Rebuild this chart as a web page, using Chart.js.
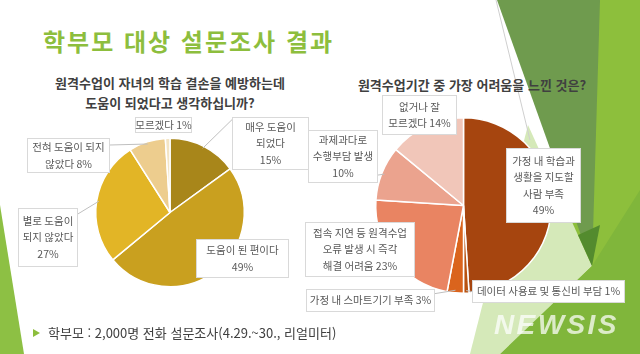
<!DOCTYPE html>
<html lang="ko">
<head>
<meta charset="utf-8">
<script src="https://cdn.jsdelivr.net/npm/chart.js@4.4.1/dist/chart.umd.min.js"></script>
<style>
  html, body { margin: 0; padding: 0; background: #fff; }
  body { width: 640px; height: 354px; position: relative; overflow: hidden; font-family: "Noto Sans CJK KR", sans-serif; }
  #bg, canvas { position: absolute; left: 0; top: 0; }
  .title { position: absolute; left: 43px; top: 28px; font-size: 24px; line-height: 26px; font-weight: bold; letter-spacing: 2px; color: #8DBE3D; white-space: nowrap; }
  .q { position: absolute; color: #404040; font-weight: bold; font-size: 13px; line-height: 20px; text-align: center; white-space: nowrap; }
  .foot { position: absolute; left: 48px; top: 324px; font-size: 13px; line-height: 18px; color: #404040; white-space: nowrap; }
  .arrow { position: absolute; left: 33px; top: 329px; width: 0; height: 0; border-left: 7px solid #8DBE3D; border-top: 4px solid transparent; border-bottom: 4px solid transparent; }
  .mark { position: absolute; left: 494px; top: 309px; font-family: "Liberation Sans", sans-serif; font-size: 28px; font-weight: bold; font-style: italic; letter-spacing: 2.4px; color: rgba(255,255,255,0.72); }
</style>
</head>
<body>
<svg id="bg" width="640" height="354">
  <polygon points="0,205 24,354 0,354" fill="#8DC044"/>
  <polygon points="583,0 640,0 640,354 560,354" fill="#8DBF3C"/>
  <polygon points="497,0 600,0 592,266" fill="#6F9B4E"/>
  <polygon points="528,125 592,266 500,354 470,354" fill="#D5E9B9"/>
  <polygon points="592,266 640,190 640,354 500,354" fill="#80B63B"/>
  <polygon points="578,235 600,225 592,266" fill="#538B2E"/>
  <line x1="496" y1="0" x2="530" y2="140" stroke="#cfcfcf" stroke-width="1"/>
</svg>

<div class="title">학부모 대상 설문조사 결과</div>
<div class="q" style="left:20px; width:300px; top:73px;">원격수업이 자녀의 학습 결손을 예방하는데<br>도움이 되었다고 생각하십니까?</div>
<div class="q" style="left:322px; width:300px; top:75px;">원격수업기간 중 가장 어려움을 느낀 것은?</div>

<canvas id="pie1" width="640" height="354"></canvas>
<canvas id="pie2" width="640" height="354"></canvas>

<div class="arrow"></div>
<div class="foot">학부모 : 2,000명 전화 설문조사(4.29.~30., 리얼미터)</div>
<div class="mark">NEWSIS</div>

<script>
// 원격수업이 학습 결손 예방에 도움이 되었나
const helpLabels = [['매우 도움이', '되었다'], ['도움이 된 편이다'], ['별로 도움이', '되지 않았다'], ['전혀 도움이 되지', '않았다'], ['모르겠다']];
const helpValues = [15, 49, 27, 8, 1];
const helpColors = ['#A8861A', '#C9A01F', '#E2B526', '#EDCD8E', '#F3E4C4'];

// 원격수업기간 중 가장 어려웠던 점
const hardLabels = [['가정 내 학습과', '생활을 지도할', '사람 부족'], ['데이터 사용료 및 통신비 부담'], ['가정 내 스마트기기 부족'], ['접속 지연 등 원격수업', '오류 발생 시 즉각', '해결 어려움'], ['과제과다로', '수행부담 발생'], ['없거나 잘', '모르겠다']];
const hardValues = [49, 1, 3, 23, 10, 14];
const hardColors = ['#A6450F', '#B9520F', '#DA641D', '#E98462', '#EBA38E', '#F1C6B9'];

// label boxes (x, y, w, h), where the leader line leaves the box, and if % goes on its own line
const helpBoxes = [
  { x: 232, y: 117, w: 77, h: 53, at: [0, 0.05], pctLine: true },
  { x: 196, y: 239, w: 93, h: 39, pctLine: true },
  { x: 18, y: 208, w: 60, h: 59, at: [1, 0.1], pctLine: true },
  { x: 27, y: 138, w: 83, h: 35, at: [1, 0.2] },
  { x: 135, y: 117, w: 57, h: 16 }
];
const hardBoxes = [
  { x: 506, y: 148, w: 75, h: 75, pctLine: true },
  { x: 472, y: 280, w: 153, h: 23, at: [0, 0.5] },
  { x: 306, y: 289, w: 129, h: 23, at: [1, 0.2] },
  { x: 305, y: 222, w: 110, h: 55 },
  { x: 308, y: 130, w: 70, h: 53, at: [1, 0.85], pctLine: true },
  { x: 382, y: 95, w: 75, h: 40 }
];

const callouts = {
  id: 'callouts',
  afterDatasetsDraw(chart, args, opts) {
    const ctx = chart.ctx;
    const meta = chart.getDatasetMeta(0);
    const values = chart.data.datasets[0].data;
    const labels = chart.data.labels;
    ctx.save();
    opts.boxes.forEach((b, i) => {
      const arc = meta.data[i];
      if (b.at) {
        const p = arc.getProps(['x', 'y', 'startAngle', 'endAngle', 'outerRadius'], true);
        const mid = (p.startAngle + p.endAngle) / 2;
        const ax = p.x + Math.cos(mid) * p.outerRadius * 0.97;
        const ay = p.y + Math.sin(mid) * p.outerRadius * 0.97;
        ctx.strokeStyle = '#BFBFBF';
        ctx.lineWidth = 1;
        ctx.beginPath();
        ctx.moveTo(b.x + b.w * b.at[0], b.y + b.h * b.at[1]);
        ctx.lineTo(ax, ay);
        ctx.stroke();
      }
      ctx.fillStyle = '#fff';
      ctx.fillRect(b.x, b.y, b.w, b.h);
      ctx.strokeStyle = '#D9D9D9';
      ctx.strokeRect(b.x + 0.5, b.y + 0.5, b.w - 1, b.h - 1);

      const lines = labels[i].slice();
      const pct = values[i] + '%';
      if (b.pctLine) lines.push(pct);
      else lines[lines.length - 1] += ' ' + pct;
      ctx.font = '10.5px "Noto Sans CJK KR"';
      ctx.fillStyle = '#595959';
      ctx.textAlign = 'center';
      ctx.textBaseline = 'middle';
      const lh = opts.lineHeight;
      const y0 = b.y + b.h / 2 - (lines.length - 1) * lh / 2;
      lines.forEach((t, k) => ctx.fillText(t, b.x + b.w / 2, y0 + k * lh));
    });
    ctx.restore();
  }
};

function pie(id, labels, values, colors, boxes, padding) {
  return new Chart(document.getElementById(id), {
    type: 'pie',
    data: {
      labels: labels,
      datasets: [{ data: values, backgroundColor: colors, borderColor: '#fff', borderWidth: 1.5 }]
    },
    options: {
      responsive: false,
      animation: false,
      layout: { padding: padding },
      plugins: {
        legend: { display: false },
        tooltip: { enabled: false },
        callouts: { boxes: boxes, lineHeight: 16.5 }
      }
    },
    plugins: [callouts]
  });
}

pie('pie1', helpLabels, helpValues, helpColors, helpBoxes, { left: 95, right: 395, top: 137, bottom: 66 });
pie('pie2', hardLabels, hardValues, hardColors, hardBoxes, { left: 375, right: 88, top: 117, bottom: 60 });
</script>
</body>
</html>
